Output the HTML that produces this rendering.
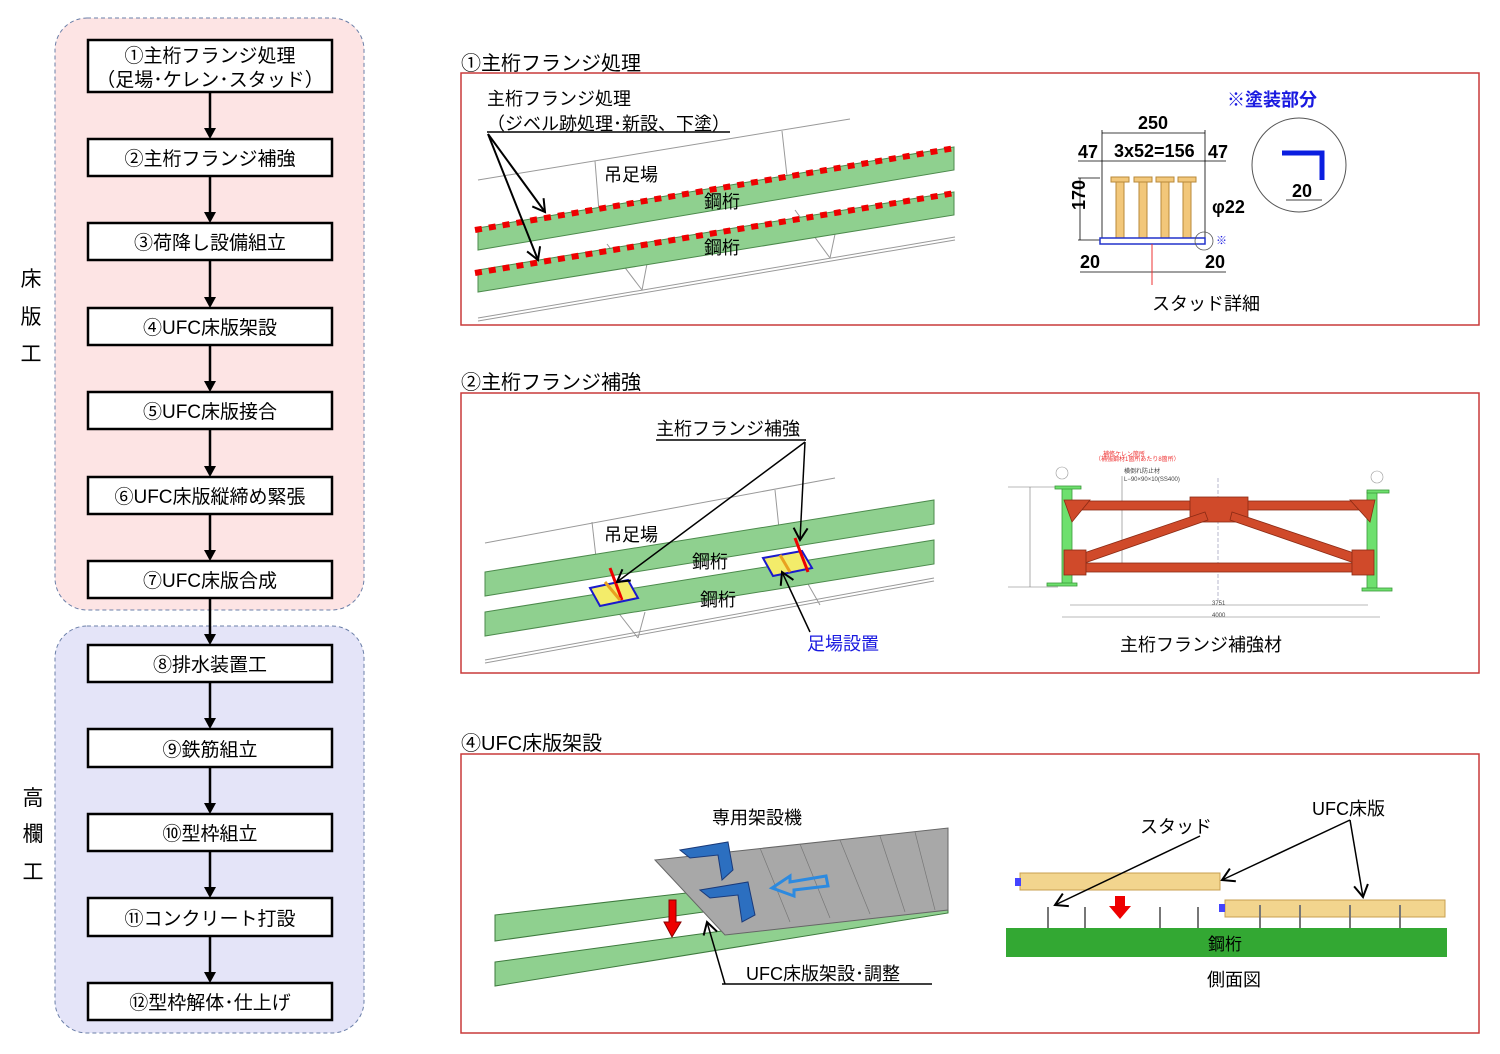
<!DOCTYPE html>
<html><head><meta charset="utf-8"><style>
body{margin:0;background:#fff}
text{font-family:"Liberation Sans","Noto Sans CJK JP",sans-serif}
</style></head><body>
<svg width="1500" height="1049" viewBox="0 0 1500 1049" xmlns="http://www.w3.org/2000/svg">
<defs>
<marker id="oa" markerWidth="16" markerHeight="16" refX="14" refY="8" orient="auto" markerUnits="userSpaceOnUse"><path d="M2,1 L14,8 L2,15" fill="none" stroke="#000" stroke-width="2"/></marker>
</defs>
<rect x="55" y="18" width="309" height="592" rx="32" fill="#fde4e4" stroke="#6b7fa8" stroke-dasharray="4,3"/>
<rect x="55" y="626" width="309" height="407" rx="32" fill="#e4e4f8" stroke="#6b7fa8" stroke-dasharray="4,3"/>
<g font-size="21" text-anchor="middle">
<text x="31" y="286">床</text><text x="31" y="324">版</text><text x="31" y="361">工</text>
<text x="33" y="805">高</text><text x="33" y="841">欄</text><text x="33" y="879">工</text>
</g>
<g fill="#fff" stroke="#000" stroke-width="2.5">
<rect x="88" y="40" width="244" height="52"/>
<rect x="88" y="139" width="244" height="37"/>
<rect x="88" y="223" width="244" height="37"/>
<rect x="88" y="308" width="244" height="37"/>
<rect x="88" y="392" width="244" height="37"/>
<rect x="88" y="477" width="244" height="37"/>
<rect x="88" y="561" width="244" height="37"/>
<rect x="88" y="645" width="244" height="37"/>
<rect x="88" y="729" width="244" height="38"/>
<rect x="88" y="814" width="244" height="37"/>
<rect x="88" y="898" width="244" height="38"/>
<rect x="88" y="983" width="244" height="37"/>
</g>
<g stroke="#000" stroke-width="2.5">
<line x1="210" y1="92" x2="210" y2="130"/><line x1="210" y1="176" x2="210" y2="214"/><line x1="210" y1="260" x2="210" y2="299"/><line x1="210" y1="345" x2="210" y2="383"/><line x1="210" y1="429" x2="210" y2="468"/><line x1="210" y1="514" x2="210" y2="552"/><line x1="210" y1="598" x2="210" y2="636"/><line x1="210" y1="682" x2="210" y2="720"/><line x1="210" y1="767" x2="210" y2="805"/><line x1="210" y1="851" x2="210" y2="889"/><line x1="210" y1="936" x2="210" y2="974"/>
</g>
<g fill="#000">
<path d="M204,128 L216,128 L210,139z"/><path d="M204,212 L216,212 L210,223z"/><path d="M204,297 L216,297 L210,308z"/><path d="M204,381 L216,381 L210,392z"/><path d="M204,466 L216,466 L210,477z"/><path d="M204,550 L216,550 L210,561z"/><path d="M204,634 L216,634 L210,645z"/><path d="M204,718 L216,718 L210,729z"/><path d="M204,803 L216,803 L210,814z"/><path d="M204,887 L216,887 L210,898z"/><path d="M204,972 L216,972 L210,983z"/>
</g>
<g font-size="19" text-anchor="middle">
<text x="210" y="62">①主桁フランジ処理</text><text x="210" y="86">（足場･ケレン･スタッド）</text>
<text x="210" y="165">②主桁フランジ補強</text>
<text x="210" y="249">③荷降し設備組立</text>
<text x="210" y="334">④UFC床版架設</text>
<text x="210" y="418">⑤UFC床版接合</text>
<text x="210" y="503">⑥UFC床版縦締め緊張</text>
<text x="210" y="587">⑦UFC床版合成</text>
<text x="210" y="671">⑧排水装置工</text>
<text x="210" y="756">⑨鉄筋組立</text>
<text x="210" y="840">⑩型枠組立</text>
<text x="210" y="925">⑪コンクリート打設</text>
<text x="210" y="1009">⑫型枠解体･仕上げ</text>
</g>
<g font-size="20"><text x="461" y="70">①主桁フランジ処理</text><text x="461" y="389">②主桁フランジ補強</text><text x="461" y="750">④UFC床版架設</text></g>
<g fill="none" stroke="#c83a3a" stroke-width="1.5">
<rect x="461" y="73" width="1018" height="252"/><rect x="461" y="393" width="1018" height="280"/><rect x="461" y="754" width="1018" height="279"/>
</g>
<g stroke="#999" fill="none" stroke-width="1">
<line x1="478" y1="180" x2="850" y2="119"/><line x1="595" y1="161" x2="600" y2="224"/><line x1="782" y1="131" x2="788" y2="185"/>
<line x1="478" y1="318" x2="955" y2="237"/><line x1="478" y1="321" x2="955" y2="240"/>
<line x1="607" y1="244" x2="642" y2="290"/><line x1="642" y1="290" x2="650" y2="248"/><line x1="795" y1="210" x2="830" y2="258"/><line x1="830" y1="258" x2="838" y2="220"/>
</g>
<path d="M478,228 L954,147 L954,170 L478,250z" fill="#8fd08f" stroke="#4c8a4c"/>
<path d="M478,270 L954,192 L954,215 L478,292z" fill="#8fd08f" stroke="#4c8a4c"/>
<line x1="475" y1="230" x2="955" y2="148" stroke="#e00" stroke-width="6" stroke-dasharray="7,7"/>
<line x1="475" y1="273" x2="955" y2="193" stroke="#e00" stroke-width="6" stroke-dasharray="7,7"/>
<g font-size="18"><text x="487" y="105">主桁フランジ処理</text><text x="487" y="130">（ジベル跡処理･新設、下塗）</text>
<text x="604" y="181">吊足場</text><text x="704" y="208">鋼桁</text><text x="704" y="254">鋼桁</text></g>
<line x1="487" y1="132" x2="730" y2="132" stroke="#000" stroke-width="1.5"/>
<line x1="488" y1="134" x2="545" y2="212" stroke="#000" stroke-width="2" marker-end="url(#oa)"/>
<line x1="488" y1="134" x2="538" y2="260" stroke="#000" stroke-width="2" marker-end="url(#oa)"/>
<g stroke="#000" stroke-width="0.8" fill="none">
<line x1="1102" y1="130" x2="1102" y2="240"/><line x1="1205" y1="130" x2="1205" y2="240"/>
<line x1="1102" y1="133" x2="1205" y2="133"/><line x1="1078" y1="161" x2="1226" y2="161"/>
<line x1="1078" y1="178" x2="1100" y2="178"/><line x1="1078" y1="240" x2="1100" y2="240"/><line x1="1080" y1="178" x2="1080" y2="240"/>
<line x1="1080" y1="272" x2="1226" y2="272"/>
</g>
<g fill="#f2c77a" stroke="#b88a3a">
<rect x="1116" y="181" width="8" height="57"/><rect x="1111" y="177" width="18" height="5"/>
<rect x="1139" y="181" width="8" height="57"/><rect x="1134" y="177" width="18" height="5"/>
<rect x="1161" y="181" width="8" height="57"/><rect x="1156" y="177" width="18" height="5"/>
<rect x="1183" y="181" width="8" height="57"/><rect x="1178" y="177" width="18" height="5"/>
</g>
<rect x="1100" y="238" width="105" height="6" fill="#fff" stroke="#2233cc" stroke-width="1.5"/>
<line x1="1152" y1="244" x2="1152" y2="285" stroke="#e33" stroke-width="1"/>
<circle cx="1204" cy="241" r="9" fill="none" stroke="#555" stroke-width="0.8"/>
<circle cx="1299" cy="165" r="47" fill="none" stroke="#555" stroke-width="1"/>
<path d="M1282,153 L1322,153 L1322,180" fill="none" stroke="#0a1ee0" stroke-width="5"/>
<line x1="1286" y1="200" x2="1322" y2="200" stroke="#000" stroke-width="0.8"/>
<g font-size="18" font-weight="bold"><text x="1138" y="129">250</text><text x="1078" y="158">47</text><text x="1114" y="157">3x52=156</text><text x="1208" y="158">47</text>
<text x="1212" y="213">φ22</text><text x="1080" y="268">20</text><text x="1205" y="268">20</text><text x="1292" y="197">20</text></g>
<text x="1073" y="222" font-size="18" font-weight="bold" transform="rotate(-90 1073 210)">170</text>
<text x="1227" y="106" font-size="18" font-weight="bold" fill="#1a1ae0">※塗装部分</text>
<text x="1216" y="244" font-size="11" fill="#1a1ae0">※</text>
<text x="1152" y="310" font-size="18">スタッド詳細</text>
<g stroke="#999" fill="none">
<line x1="485" y1="543" x2="835" y2="478"/><line x1="592" y1="522" x2="598" y2="575"/><line x1="775" y1="490" x2="780" y2="538"/>
<line x1="485" y1="660" x2="934" y2="578"/><line x1="485" y1="663" x2="934" y2="581"/>
<line x1="610" y1="602" x2="638" y2="638"/><line x1="638" y1="638" x2="645" y2="612"/><line x1="800" y1="570" x2="820" y2="605"/>
</g>
<path d="M485,572 L934,500 L934,524 L485,596z" fill="#8fd08f" stroke="#4c8a4c"/>
<path d="M485,612 L934,540 L934,564 L485,636z" fill="#8fd08f" stroke="#4c8a4c"/>
<path d="M590,588 L628,580 L638,598 L600,606z" fill="#f3ec6a" stroke="#1a1acc" stroke-width="2"/>
<path d="M763,558 L802,551 L812,568 L773,576z" fill="#f3ec6a" stroke="#1a1acc" stroke-width="2"/>
<line x1="610" y1="568" x2="622" y2="600" stroke="#e00" stroke-width="3"/><line x1="795" y1="538" x2="808" y2="572" stroke="#e00" stroke-width="3"/>
<line x1="605" y1="582" x2="620" y2="600" stroke="#e8a020" stroke-width="3"/><line x1="780" y1="555" x2="790" y2="572" stroke="#e8a020" stroke-width="3"/>
<g font-size="18"><text x="656" y="435">主桁フランジ補強</text><text x="604" y="541">吊足場</text><text x="692" y="568">鋼桁</text><text x="700" y="606">鋼桁</text>
<text x="807" y="650" fill="#1a1ae0">足場設置</text><text x="1120" y="651">主桁フランジ補強材</text></g>
<line x1="656" y1="440" x2="806" y2="440" stroke="#000" stroke-width="1.5"/>
<line x1="805" y1="442" x2="617" y2="582" stroke="#000" stroke-width="1.5" marker-end="url(#oa)"/>
<line x1="805" y1="442" x2="800" y2="540" stroke="#000" stroke-width="1.5" marker-end="url(#oa)"/>
<line x1="810" y1="632" x2="782" y2="572" stroke="#000" stroke-width="1.5" marker-end="url(#oa)"/>
<g stroke="#777" stroke-width="0.6" fill="none">
<line x1="1008" y1="487" x2="1058" y2="487"/><line x1="1008" y1="587" x2="1058" y2="587"/><line x1="1030" y1="487" x2="1030" y2="587"/>
<line x1="1070" y1="605" x2="1368" y2="605"/><line x1="1062" y1="617" x2="1380" y2="617"/>
<line x1="1218" y1="478" x2="1218" y2="600" stroke="#88a" stroke-dasharray="4,2"/>
<line x1="1122" y1="476" x2="1122" y2="563"/>
</g>
<g fill="#6ee06e" stroke="#3a9a3a" stroke-width="0.8">
<rect x="1062" y="488" width="10" height="96"/><rect x="1055" y="486" width="26" height="3"/><rect x="1047" y="583" width="30" height="3"/>
<rect x="1367" y="492" width="10" height="96"/><rect x="1367" y="490" width="22" height="3"/><rect x="1362" y="588" width="30" height="3"/>
</g>
<g fill="#d04a2a" stroke="#8a2a14" stroke-width="0.8">
<rect x="1070" y="501" width="298" height="9"/><rect x="1070" y="563" width="298" height="9"/>
<rect x="1190" y="497" width="58" height="25"/>
<path d="M1078,555 L1205,512 L1208,520 L1082,564z"/><path d="M1232,512 L1360,555 L1357,564 L1230,520z"/>
<path d="M1064,500 L1090,500 L1072,522z"/><path d="M1375,500 L1350,500 L1370,522z"/>
<rect x="1064" y="550" width="22" height="25"/><rect x="1352" y="550" width="22" height="25"/>
</g>
<g font-size="6" fill="#444"><text x="1103" y="456" fill="#e33">補修ケレン箇所</text><text x="1095" y="461" fill="#e33">（補強鋼材1箇所あたり8箇所）</text><text x="1124" y="473">横倒れ防止材</text><text x="1124" y="481">L−90×90×10(SS400)</text><text x="1212" y="605">3751</text><text x="1212" y="617">4000</text></g>
<circle cx="1062" cy="473" r="6" fill="#fff" stroke="#999" stroke-width="0.6"/><circle cx="1377" cy="477" r="6" fill="#fff" stroke="#999" stroke-width="0.6"/>
<path d="M495,915 L948,863 L948,878 L495,941z" fill="#8fd08f" stroke="#3e7a3e"/>
<path d="M495,962 L948,900 L948,913 L495,986z" fill="#8fd08f" stroke="#3e7a3e"/>
<path d="M655,860 L948,828 L948,910 L725,935 z" fill="#a8a8a8" stroke="#666"/>
<g stroke="#777" stroke-width="0.7"><line x1="760" y1="848" x2="790" y2="922"/><line x1="800" y1="844" x2="830" y2="918"/><line x1="840" y1="840" x2="870" y2="914"/><line x1="880" y1="836" x2="905" y2="912"/><line x1="915" y1="832" x2="935" y2="910"/></g>
<g fill="#2c6fc0" stroke="#1a3a7a"><path d="M680,850 L728,842 L733,870 L722,880 L718,855 L690,858z"/><path d="M700,890 L748,882 L755,915 L742,922 L738,895 L710,898z"/></g>
<path d="M826,876 L790,882 L790,876 L772,888 L794,896 L794,890 L828,886z" fill="none" stroke="#2c8ae0" stroke-width="3"/>
<path d="M669,900 L676,900 L676,922 L681,922 L672,937 L664,922 L669,922z" fill="#e00" stroke="#800"/>
<g font-size="18"><text x="712" y="824">専用架設機</text><text x="746" y="980">UFC床版架設･調整</text><text x="1140" y="833">スタッド</text><text x="1312" y="815">UFC床版</text><text x="1207" y="986">側面図</text></g>
<line x1="722" y1="984" x2="932" y2="984" stroke="#000" stroke-width="1.5"/>
<line x1="725" y1="984" x2="707" y2="922" stroke="#000" stroke-width="1.5" marker-end="url(#oa)"/>
<rect x="1006" y="928" width="441" height="29" fill="#33a833"/>
<text x="1208" y="950" font-size="17">鋼桁</text>
<rect x="1020" y="873" width="200" height="17" fill="#f2d58e" stroke="#c8a050"/>
<rect x="1225" y="900" width="220" height="17" fill="#f2d58e" stroke="#c8a050"/>
<rect x="1015" y="878" width="6" height="8" fill="#44f"/><rect x="1219" y="904" width="6" height="8" fill="#44f"/>
<g stroke="#777" stroke-width="2"><line x1="1048" y1="907" x2="1048" y2="928"/><line x1="1085" y1="907" x2="1085" y2="928"/><line x1="1160" y1="907" x2="1160" y2="928"/><line x1="1198" y1="907" x2="1198" y2="928"/><line x1="1260" y1="905" x2="1260" y2="928"/><line x1="1300" y1="905" x2="1300" y2="928"/><line x1="1350" y1="905" x2="1350" y2="928"/><line x1="1400" y1="905" x2="1400" y2="928"/></g>
<path d="M1115,896 L1125,896 L1125,906 L1131,906 L1120,919 L1109,906 L1115,906z" fill="#e00"/>
<line x1="1200" y1="836" x2="1055" y2="905" stroke="#000" stroke-width="1.5" marker-end="url(#oa)"/>
<line x1="1350" y1="820" x2="1222" y2="880" stroke="#000" stroke-width="1.5" marker-end="url(#oa)"/>
<line x1="1350" y1="820" x2="1363" y2="897" stroke="#000" stroke-width="1.5" marker-end="url(#oa)"/>
</svg>
</body></html>
